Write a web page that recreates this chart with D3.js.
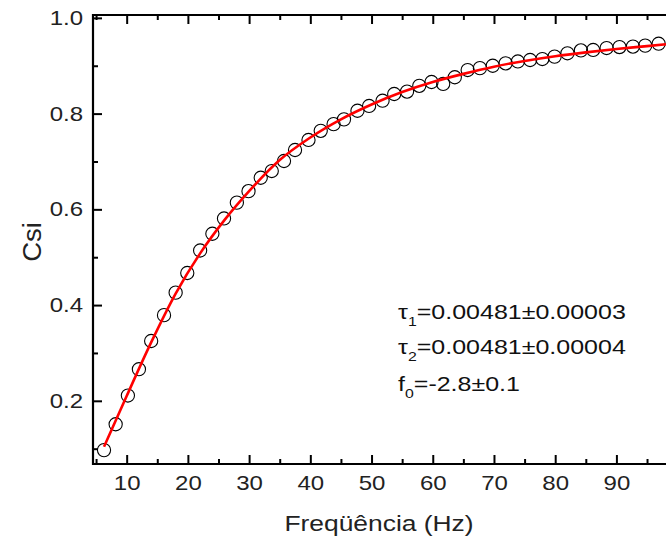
<!DOCTYPE html>
<html><head><meta charset="utf-8">
<script src="https://cdn.jsdelivr.net/npm/d3@7"></script>
<style>body{margin:0;background:#fff}svg{display:block}</style>
</head><body>
<svg id="c" width="666" height="542"></svg>
<script>
// Measured data (Frequency in Hz, Csi)
const freq = [6.3, 8.2, 10.2, 12.0, 14.0, 16.1, 18.0, 19.9, 22.0, 24.0, 25.9, 28.0, 29.9, 31.9, 33.7, 35.7, 37.5, 39.7, 41.7, 43.8, 45.5, 47.7, 49.6, 51.8, 53.7, 55.8, 57.8, 59.8, 61.7, 63.6, 65.7, 67.7, 69.8, 71.9, 73.9, 75.9, 77.9, 79.9, 82.0, 84.2, 86.2, 88.4, 90.5, 92.7, 94.7, 96.9];
const csi  = [0.097, 0.151, 0.211, 0.266, 0.325, 0.379, 0.426, 0.467, 0.514, 0.549, 0.581, 0.614, 0.638, 0.666, 0.680, 0.701, 0.724, 0.745, 0.764, 0.778, 0.788, 0.806, 0.816, 0.827, 0.841, 0.846, 0.858, 0.866, 0.862, 0.876, 0.891, 0.895, 0.900, 0.905, 0.909, 0.912, 0.914, 0.919, 0.926, 0.932, 0.933, 0.937, 0.939, 0.940, 0.942, 0.946];
// Fitted curve
const fitFreq = [6.3, 10, 14, 18, 22, 26, 30, 35, 40, 45, 50, 55, 60, 65, 70, 75, 80, 85, 90, 95, 98.1];
const fitCsi  = [0.104, 0.210, 0.322, 0.424, 0.508, 0.578, 0.638, 0.703, 0.750, 0.788, 0.819, 0.845, 0.866, 0.883, 0.898, 0.910, 0.920, 0.928, 0.935, 0.941, 0.945];
const xTicks = [10, 20, 30, 40, 50, 60, 70, 80, 90];
const xMinor = [5, 15, 25, 35, 45, 55, 65, 75, 85, 95];
const yTicks = [0.2, 0.4, 0.6, 0.8, 1.0];
const yMinor = [0.1, 0.3, 0.5, 0.7, 0.9];
const annot = [
  {sym: "τ", sub: "1", rest: "=0.00481±0.00003"},
  {sym: "τ", sub: "2", rest: "=0.00481±0.00004"},
  {sym: "f", sub: "0", rest: "=-2.8±0.1"}
];
const xTitle = "Freqüência (Hz)";
const yTitle = "Csi";

const W = 666, H = 542;
const L = 93, T = 15, B = 464, R = 666;
const SX = 1.2; // horizontal text stretch
const FONT = "'Liberation Sans', Arial, sans-serif";

const svg = d3.select("#c");
const x = d3.scaleLinear().domain([4.5, 98.1]).range([L, R]);
const y = d3.scaleLinear().domain([0.068, 1.006]).range([B, T]);

// markers
svg.append("g").selectAll("circle").data(freq).join("circle")
  .attr("cx", (d) => x(d)).attr("cy", (d, i) => y(csi[i])).attr("r", 6.6)
  .attr("fill", "none").attr("stroke", "#000").attr("stroke-width", 1.1);

// fit line
const fitData = fitFreq.map((f, i) => [f, fitCsi[i]]);
svg.append("path").datum(fitData)
  .attr("d", d3.line().x(d => x(d[0])).y(d => y(d[1])).curve(d3.curveMonotoneX))
  .attr("fill", "none").attr("stroke", "#ff0000").attr("stroke-width", 2.6);

// axes
function styleAxis(g) {
  g.select(".domain").remove();
  g.selectAll("line").attr("stroke", "#000").attr("stroke-width", 2);
}
const gBottom = svg.append("g").attr("transform", `translate(0,${B})`)
  .call(d3.axisBottom(x).tickValues(xTicks).tickSizeInner(-9).tickSizeOuter(0).tickPadding(12).tickFormat(d3.format("d")));
styleAxis(gBottom);
gBottom.selectAll("text").attr("font-family", FONT).attr("font-size", 20).attr("fill", "#222")
  .attr("transform", `scale(${SX},1)`);
const gBottomMinor = svg.append("g").attr("transform", `translate(0,${B})`)
  .call(d3.axisBottom(x).tickValues(xMinor).tickSizeInner(-5).tickSizeOuter(0).tickFormat(""));
styleAxis(gBottomMinor);

const gTop = svg.append("g").attr("transform", `translate(0,${T})`)
  .call(d3.axisTop(x).tickValues(xTicks).tickSizeInner(-9).tickSizeOuter(0).tickFormat(""));
styleAxis(gTop);
const gTopMinor = svg.append("g").attr("transform", `translate(0,${T})`)
  .call(d3.axisTop(x).tickValues(xMinor).tickSizeInner(-5).tickSizeOuter(0).tickFormat(""));
styleAxis(gTopMinor);

const gLeft = svg.append("g").attr("transform", `translate(${L},0)`)
  .call(d3.axisLeft(y).tickValues(yTicks).tickSizeInner(-9).tickSizeOuter(0).tickPadding(10).tickFormat(d3.format(".1f")));
styleAxis(gLeft);
gLeft.selectAll("text").attr("font-family", FONT).attr("font-size", 20).attr("fill", "#222")
  .attr("x", -10 / SX).attr("transform", `scale(${SX},1)`);
const gLeftMinor = svg.append("g").attr("transform", `translate(${L},0)`)
  .call(d3.axisLeft(y).tickValues(yMinor).tickSizeInner(-5).tickSizeOuter(0).tickFormat(""));
styleAxis(gLeftMinor);

// frame lines
svg.append("line").attr("x1", L).attr("x2", L).attr("y1", T - 1).attr("y2", B + 1).attr("stroke", "#000").attr("stroke-width", 2.2);
svg.append("line").attr("x1", L - 1).attr("x2", R).attr("y1", T).attr("y2", T).attr("stroke", "#000").attr("stroke-width", 2.2);
svg.append("line").attr("x1", L - 1).attr("x2", R).attr("y1", B).attr("y2", B).attr("stroke", "#000").attr("stroke-width", 2.2);

// axis titles
svg.append("g").attr("transform", `translate(379,531) scale(${SX},1)`)
  .append("text").attr("text-anchor", "middle").attr("font-family", FONT).attr("font-size", 22).attr("fill", "#222")
  .text(xTitle);
svg.append("g").attr("transform", `translate(41,242) rotate(-90) scale(1.1,1)`)
  .append("text").attr("text-anchor", "middle").attr("font-family", FONT).attr("font-size", 25).attr("fill", "#222")
  .text(yTitle);

// annotation
const baselines = [319, 354, 391];
annot.forEach((a, i) => {
  const t = svg.append("g").attr("transform", `translate(398,${baselines[i]}) scale(1.22,1)`)
    .append("text").attr("font-family", FONT).attr("font-size", 20.5).attr("fill", "#111");
  t.append("tspan").text(a.sym);
  t.append("tspan").attr("font-size", 13).attr("dy", 7).text(a.sub);
  t.append("tspan").attr("dy", -7).text(a.rest);
});
</script>
</body></html>
